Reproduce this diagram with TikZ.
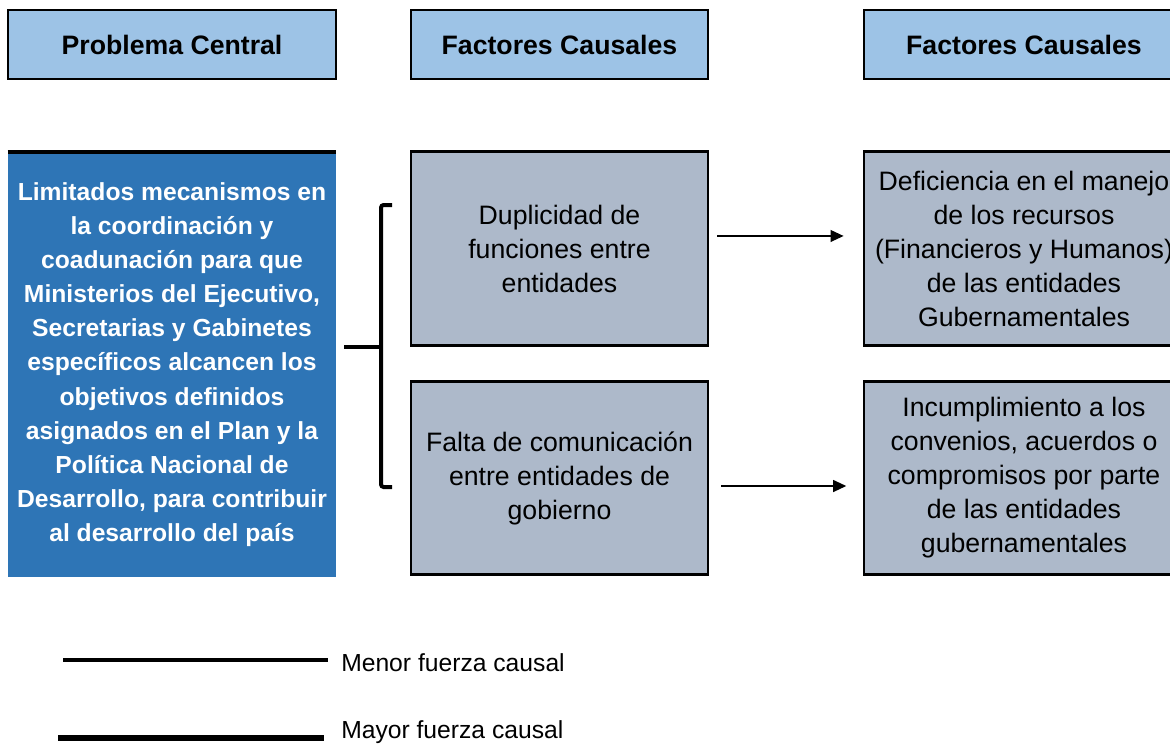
\documentclass[tikz,border=0pt]{standalone}
\usepackage{fontspec}
\setmainfont{Liberation Sans}
\usetikzlibrary{arrows.meta,positioning,calc}
\definecolor{headblue}{HTML}{9DC3E6}
\definecolor{probblue}{HTML}{2E75B6}
\definecolor{causegray}{HTML}{ADB9CA}

\begin{document}
\begin{tikzpicture}[x=0.75pt, y=-0.75pt,
  head/.style={draw, line width=2.2pt, fill=headblue, inner sep=0pt,
    minimum height=51.75pt, font=\fontsize{20}{24}\selectfont\bfseries},
  problem/.style={fill=probblue, text=white, align=center, inner sep=0pt,
    minimum width=246pt, minimum height=318.75pt,
    font=\fontsize{18.5}{25.6}\selectfont\bfseries},
  cause/.style={draw, line width=2.2pt, fill=causegray, align=center,
    inner sep=0pt, minimum height=145pt,
    font=\fontsize{20}{25.5}\selectfont},
  arrow/.style={-{Triangle[length=10pt, width=8.5pt]}, line width=2.2pt},
  brace/.style={line width=3pt, rounded corners=2pt},
  legend/.style={anchor=west, inner sep=0pt, font=\fontsize{18.5}{22}\selectfont}
]
\useasboundingbox (0,0) rectangle (1170,744);
\clip (0,0) rectangle (1170,744);

% headers
\node[head, minimum width=246pt] (H1) at (172,44.5) {Problema Central};
\node[head, minimum width=222.75pt] (H2) at (559.5,44.5) {Factores Causales};
\node[head, minimum width=240pt] (H3) at (1024,44.5) {Factores Causales};

\node[problem] (P) at (172,364.5) {%
  Limitados mecanismos en\\
  la coordinación y\\
  coadunación para que\\
  Ministerios del Ejecutivo,\\
  Secretarias y Gabinetes\\
  específicos alcancen los\\
  objetivos definidos\\
  asignados en el Plan y la\\
  Política Nacional de\\
  Desarrollo, para contribuir\\
  al desarrollo del país};
\draw[line width=3pt] (P.north west) -- (P.north east);

% causes
\node[cause, minimum width=222.75pt] (C1) at (559.5,248.5) {%
  Duplicidad de\\
  funciones entre\\
  entidades};
\node[cause, minimum width=222.75pt] (C2) at (559.5,478) {%
  Falta de comunicación\\
  entre entidades de\\
  gobierno};

% effects
\node[cause, minimum width=240pt] (E1) at (1024,248.5) {%
  Deficiencia en el manejo\\
  de los recursos\\
  (Financieros y Humanos)\\
  de las entidades\\
  Gubernamentales};
\node[cause, minimum width=240pt] (E2) at (1024,478) {%
  Incumplimiento a los\\
  convenios, acuerdos o\\
  compromisos por parte\\
  de las entidades\\
  gubernamentales};

\draw[arrow, shorten <=6pt, shorten >=14pt]
  ([yshift=9.4pt]C1.east) -- ([yshift=9.4pt]E1.west);
\draw[arrow, shorten <=9pt, shorten >=12pt]
  ([yshift=-6pt]C2.east) -- ([yshift=-6pt]E2.west);

% bracket
\coordinate (bt) at (392,205);
\coordinate (bm) at (381,347);
\coordinate (bb) at (392,487);
\draw[brace] (bt) -| (bm) |- (bb);
\draw[line width=3pt, shorten >=6pt] (bm) -- (bm -| P.east);

% legend
\node[legend] (menor) at (341,663) {Menor fuerza causal};
\node[legend] (mayor) at (341,732) {Mayor fuerza causal};
\coordinate (lm) at (63,660);
\coordinate (ly) at (58,738);
\draw[line width=3pt, shorten >=10pt] (lm) -- (lm -| menor.west);
\draw[line width=4.5pt, shorten >=13pt] (ly) -- (ly -| mayor.west);

\end{tikzpicture}
\end{document}
